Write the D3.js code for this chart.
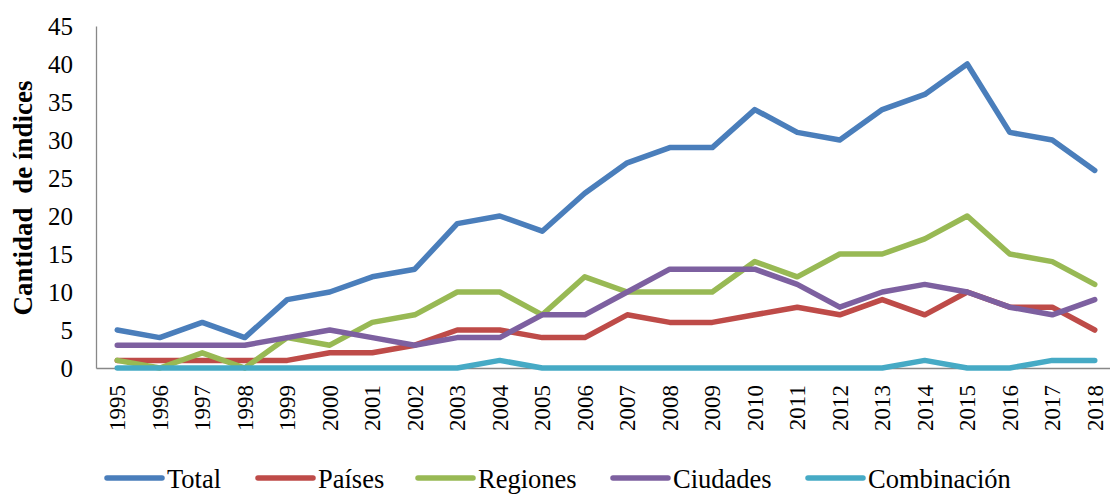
<!DOCTYPE html>
<html><head><meta charset="utf-8">
<script src="https://cdn.jsdelivr.net/npm/d3@7"></script>
<style>body{margin:0;background:#fff}</style>
</head><body><svg id="c" width="1110" height="494"></svg>
<script>
const years = [1995,1996,1997,1998,1999,2000,2001,2002,2003,2004,2005,2006,2007,2008,2009,2010,2011,2012,2013,2014,2015,2016,2017,2018];
const total =       [5,4,6,4,9,10,12,13,19,20,18,23,27,29,29,34,31,30,34,36,40,31,30,26];
const paises =      [1,1,1,1,1,2,2,3,5,5,4,4,7,6,6,7,8,7,9,7,10,8,8,5];
const regiones =    [1,0,2,0,4,3,6,7,10,10,7,12,10,10,10,14,12,15,15,17,20,15,14,11];
const ciudades =    [3,3,3,3,4,5,4,3,4,4,7,7,10,13,13,13,11,8,10,11,10,8,7,9];
const combinacion = [0,0,0,0,0,0,0,0,0,1,0,0,0,0,0,0,0,0,0,1,0,0,1,1];
const seriesNames = ["Total","Países","Regiones","Ciudades","Combinación"];
const yTicks = [0,5,10,15,20,25,30,35,40,45];
const colors = ["#4a7ebb","#be4b48","#98b954","#7d60a0","#46aac5"];
const seriesData = [total,paises,regiones,ciudades,combinacion];

const svg = d3.select("#c");
const font = "'Liberation Serif','Times New Roman',serif";
const mLeft = 96, mRight = 1116, mTop = 26, mBottom = 368;
const x = d3.scaleBand().domain(years).range([mLeft, mRight]);
const y = d3.scaleLinear().domain([0,45]).range([mBottom, mTop]);

// y axis
const ya = svg.append("g").attr("transform",`translate(${mLeft},0)`)
  .call(d3.axisLeft(y).tickValues(yTicks).tickSize(0).tickPadding(23));
ya.select(".domain").attr("stroke","#888").attr("stroke-width",1.3);
ya.selectAll("text").attr("font-family",font).attr("font-size",25).attr("fill","#000");

// x axis
const xa = svg.append("g").attr("transform",`translate(0,${mBottom})`)
  .call(d3.axisBottom(x).tickSize(0).tickPadding(0));
xa.select(".domain").attr("stroke","#888").attr("stroke-width",1.3);
xa.selectAll("text").attr("font-family",font).attr("font-size",23).attr("fill","#000")
  .attr("transform","rotate(-90)").attr("text-anchor","end")
  .attr("x",-17).attr("y",0).attr("dy","0.35em");

// title
svg.append("text").attr("transform","translate(32,198) rotate(-90)")
  .attr("text-anchor","middle").attr("font-family",font).attr("font-size",27)
  .attr("font-weight","bold").attr("fill","#000").attr("xml:space","preserve").text("Cantidad  de índices");

const line = d3.line().x((d,i)=>x(years[i])+x.bandwidth()/2).y(d=>y(d));
seriesData.forEach((s,k)=>{
  svg.append("path").datum(s).attr("d",line).attr("fill","none")
    .attr("stroke",colors[k]).attr("stroke-width",5.5).attr("stroke-linejoin","round").attr("stroke-linecap","round");
});

// legend
const legX = [107,258,418,613,808];
const lg = svg.append("g");
seriesNames.forEach((n,k)=>{
  lg.append("line").attr("x1",legX[k]).attr("x2",legX[k]+55).attr("y1",478).attr("y2",478)
    .attr("stroke",colors[k]).attr("stroke-width",5.5).attr("stroke-linecap","round");
  lg.append("text").attr("x",legX[k]+60).attr("y",488).attr("font-family",font).attr("font-size",26.5)
    .attr("fill","#000").text(n);
});
</script></body></html>
